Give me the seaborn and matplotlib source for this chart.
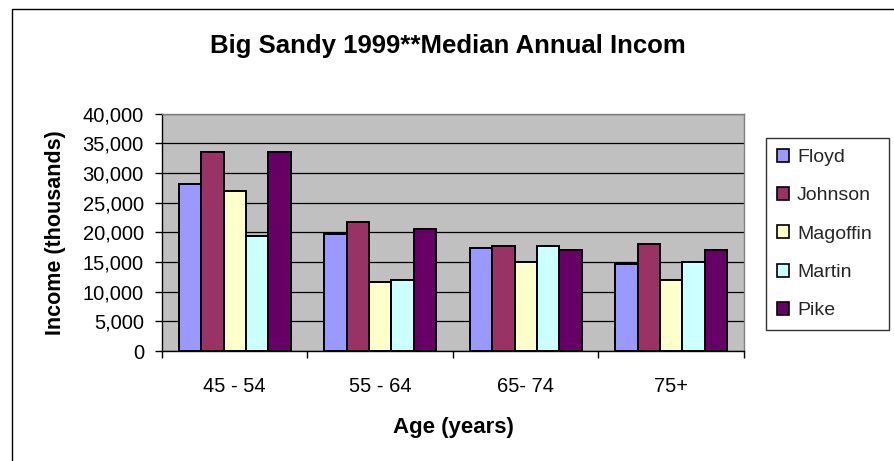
import matplotlib
matplotlib.use("Agg")
import matplotlib.pyplot as plt
import seaborn as sns
import pandas as pd
from matplotlib.patches import Rectangle, Patch
from matplotlib.ticker import FuncFormatter, MultipleLocator, FixedLocator

# ---- data ----
age_groups = ["45 - 54", "55 - 64", "65- 74", "75+"]
counties = ["Floyd", "Johnson", "Magoffin", "Martin", "Pike"]
floyd = [28200, 19800, 17400, 14700]
johnson = [33600, 21800, 17750, 18100]
magoffin = [26900, 11700, 15000, 12000]
martin = [19400, 12000, 17750, 15000]
pike = [33600, 20500, 17100, 17100]
colors = ["#9999FF", "#993366", "#FFFFCC", "#CCFFFF", "#660066"]

title = "Big Sandy 1999**Median Annual Incom"
xlabel = "Age (years)"
ylabel = "Income (thousands)"

series = {"Floyd": floyd, "Johnson": johnson, "Magoffin": magoffin,
          "Martin": martin, "Pike": pike}
rows = []
for c in counties:
    for a, v in zip(age_groups, series[c]):
        rows.append({"Age": a, "County": c, "Income": v})
df = pd.DataFrame(rows)

sns.set_theme(style="white")
plt.rcParams["font.family"] = ["Liberation Sans", "DejaVu Sans"]

W, H = 895, 461
fig = plt.figure(figsize=(W / 100, H / 100), dpi=100)

# outer chart border (only left/top edges fall inside the picture)
fig.patches.append(Rectangle((12 / W, -0.1), 2.0, 1.1 - 9 / H,
                             transform=fig.transFigure, fill=False,
                             edgecolor="black", linewidth=1.0))

L, R, T, B = 162, 744, 113.7, 351
ax = fig.add_axes([L / W, (H - B) / H, (R - L) / W, (B - T) / H])
ax.set_facecolor("#C0C0C0")

sns.barplot(data=df, x="Age", y="Income", hue="County", order=age_groups,
            hue_order=counties, palette=colors, width=0.77, saturation=1,
            edgecolor="black", linewidth=1.4, errorbar=None, legend=False, ax=ax)

ax.set_ylim(0, 40000)
ax.set_xlim(-0.5, len(age_groups) - 0.5)
ax.yaxis.set_major_locator(MultipleLocator(5000))
ax.yaxis.set_major_formatter(FuncFormatter(lambda v, p: f"{int(v):,}"))
ax.set_axisbelow(True)
ax.yaxis.grid(True, color="black", linewidth=0.9)
ax.xaxis.grid(False)

for s in ["top", "right"]:
    ax.spines[s].set_color("#808080")
    ax.spines[s].set_linewidth(1.0)
for s in ["left", "bottom"]:
    ax.spines[s].set_color("black")
    ax.spines[s].set_linewidth(1.0)

ax.tick_params(axis="y", which="major", direction="out", length=5, width=1,
               color="black", pad=8, labelsize=14.5, labelcolor="black", left=True)
ax.xaxis.set_minor_locator(FixedLocator([i - 0.5 for i in range(len(age_groups) + 1)]))
ax.tick_params(axis="x", which="minor", direction="out", length=5, width=1,
               color="black", bottom=True)
ax.tick_params(axis="x", which="major", length=0, pad=19, labelsize=14.5,
               labelcolor="black")

ax.set_xlabel(xlabel, fontsize=16, fontweight="bold", labelpad=15, color="black")
ax.set_ylabel(ylabel, fontsize=15.5, fontweight="bold", labelpad=12, color="black")

fig.text(448 / W, 1 - 46 / H, title, ha="center", va="center",
         fontsize=18.5, fontweight="bold", color="black")

handles = [Patch(facecolor=c, edgecolor="black", linewidth=1.2) for c in colors]
leg = fig.legend(handles, counties, loc="upper left",
                 bbox_to_anchor=(766 / W, 1 - 328 / H, 123 / W, 190 / H),
                 mode="expand", frameon=True, fancybox=False, fontsize=14,
                 handlelength=0.65, handleheight=0.65, handletextpad=0.4,
                 labelspacing=1.08, borderaxespad=0, borderpad=0.55)
leg.get_frame().set_edgecolor("black")
leg.get_frame().set_linewidth(1.0)

fig.savefig("out.png", dpi=100)
